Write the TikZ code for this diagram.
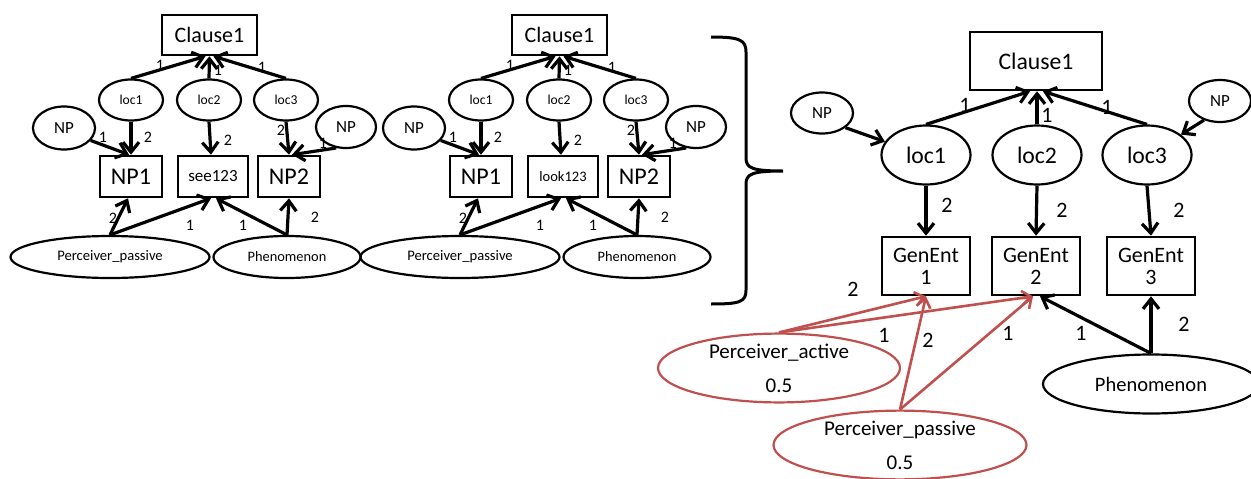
\documentclass[tikz,border=0pt]{standalone}
\usepackage{fontspec}
\setmainfont{Carlito}
\usetikzlibrary{arrows.meta,shapes.geometric,calc}
\definecolor{perc}{RGB}{192,80,77}
\tikzset{
  fs/.style={font=\fontsize{#1}{#1}\selectfont},
  box/.style={draw, rectangle, line width=2.6pt, inner sep=0pt},
  oval/.style={draw, ellipse, line width=2.2pt, inner sep=0pt},
  edge/.style={line width=3.2pt, -{Straight Barb[length=10pt,width=16pt]}},
  redge/.style={draw=perc, line width=2.6pt, -{Straight Barb[length=9pt,width=14pt]}},
  lbl/.style={inner sep=0pt},
}
% One small clause graph; #1 name prefix, #2 horizontal offset,
% #3 verb box text, #4 its font size
\newcommand{\percgraph}[4]{%
\begin{scope}[shift={(#2,0)}]
  \node[box, minimum width=95pt, minimum height=40pt, fs=22] (#1-cl) at (209.5,35) {Clause1};
  \node[oval, minimum width=64pt, minimum height=41pt, fs=13.6] (#1-l1) at (131,100) {loc1};
  \node[oval, minimum width=64pt, minimum height=41pt, fs=13.6] (#1-l2) at (209,100) {loc2};
  \node[oval, minimum width=64pt, minimum height=41pt, fs=13.6] (#1-l3) at (286,100) {loc3};
  \node[oval, minimum width=62pt, minimum height=43pt, fs=17] (#1-npl) at (64,128) {NP};
  \node[oval, minimum width=60pt, minimum height=42pt, fs=17] (#1-npr) at (346,127) {NP};
  \node[box, minimum width=62pt, minimum height=41pt, fs=24] (#1-np1) at (131,176.5) {NP1};
  \node[box, minimum width=70pt, minimum height=41pt, fs=#4] (#1-v) at (213,176.5) {#3};
  \node[box, minimum width=62pt, minimum height=41pt, fs=24] (#1-np2) at (289,176.5) {NP2};
  \node[oval, minimum width=199pt, minimum height=42pt, fs=14.6] (#1-pp) at (110,257) {Perceiver\_passive};
  \node[oval, minimum width=147pt, minimum height=42pt, fs=14.4] (#1-ph) at (287,257) {Phenomenon};
  % connectors
  \draw[edge] (#1-l1.north) -- ($(#1-cl.south)+(-4,0)$);
  \draw[edge] (#1-l2.north) -- (#1-cl.south);
  \draw[edge] (#1-l3.north) -- ($(#1-cl.south)+(4,0)$);
  \draw[edge] (#1-l1.south) -- (#1-np1.north);
  \draw[edge] (#1-l2.south) -- ($(#1-v.north)+(-2,0)$);
  \draw[edge] (#1-l3.south) -- (#1-np2.north);
  \draw[edge] (#1-npl.-25) -- ($(#1-np1.north)+(-2,0)$);
  \draw[edge] (#1-npr.-115) -- ($(#1-np2.north)+(3,0)$);
  \draw[edge] (#1-pp.north) -- ($(#1-np1.south)+(-3,0)$);
  \draw[edge] (#1-pp.north) -- ($(#1-v.south)+(-2,0)$);
  \draw[edge] (#1-ph.north) -- ($(#1-v.south)+(3,0)$);
  \draw[edge] (#1-ph.north) -- (#1-np2.south);
  % connector labels
  \node[lbl, fs=16] (#1-t1) at (160,65) {1};
  \node[lbl, fs=16] (#1-t2) at (218,70) {1};
  \node[lbl, fs=16] (#1-t3) at (262,67) {1};
  \node[lbl, fs=16] (#1-t4) at (148,137) {2};
  \node[lbl, fs=16] (#1-t5) at (228,140) {2};
  \node[lbl, fs=16] (#1-t6) at (281,130) {2};
  \node[lbl, fs=16] (#1-t7) at (103,137) {1};
  \node[lbl, fs=16] (#1-t8) at (323,143) {1};
  \node[lbl, fs=16] (#1-t9) at (113,218) {2};
  \node[lbl, fs=16] (#1-t10) at (190,225) {1};
  \node[lbl, fs=16] (#1-t11) at (243,225) {1};
  \node[lbl, fs=16] (#1-t12) at (315,217) {2};
\end{scope}}

\begin{document}
\begin{tikzpicture}[x=1pt,y=-1pt]
\useasboundingbox (0,0) rectangle (1251,479);

\percgraph{A}{0}{see123}{17}
\percgraph{B}{350}{look123}{14.5}

% brace
\draw[line width=3pt] (711,37) .. controls (740,37) and (746,40) .. (746,52)
  -- (746,158) .. controls (746,168) and (752,171) .. (783,171)
  .. controls (752,171) and (746,174) .. (746,184)
  -- (746,290) .. controls (746,302) and (740,304) .. (711,304);

% generalised graph
\node[box, minimum width=132pt, minimum height=58pt, fs=23.7] (C-cl) at (1036,61) {Clause1};
\node[oval, minimum width=62pt, minimum height=41pt, fs=17] (C-npl) at (822,113) {NP};
\node[oval, minimum width=62pt, minimum height=42pt, fs=17] (C-npr) at (1220,101) {NP};
\node[oval, minimum width=89pt, minimum height=59pt, fs=23.7] (C-l1) at (926,155) {loc1};
\node[oval, minimum width=89pt, minimum height=59pt, fs=23.7] (C-l2) at (1037,155) {loc2};
\node[oval, minimum width=89pt, minimum height=59pt, fs=23.7] (C-l3) at (1147,155) {loc3};
\node[box, minimum width=88pt, minimum height=58pt, align=center, font=\fontsize{22}{22}\selectfont] (C-g1) at (926,266) {GenEnt\\1};
\node[box, minimum width=88pt, minimum height=58pt, align=center, font=\fontsize{22}{22}\selectfont] (C-g2) at (1036,266) {GenEnt\\2};
\node[box, minimum width=88pt, minimum height=58pt, align=center, font=\fontsize{22}{22}\selectfont] (C-g3) at (1151,266) {GenEnt\\3};
\node[oval, draw=perc, minimum width=242pt, minimum height=67pt, align=center, font=\fontsize{21}{34}\selectfont] (C-pa) at (779,368) {Perceiver\_active\\0.5};
\node[oval, draw=perc, minimum width=253pt, minimum height=66pt, align=center, font=\fontsize{21}{34}\selectfont] (C-pp) at (900,445) {Perceiver\_passive\\0.5};
\node[oval, minimum width=216pt, minimum height=59pt, fs=20.5] (C-ph) at (1151,384) {Phenomenon};

\draw[edge] (C-l1.north) -- ($(C-cl.south)+(-6,0)$);
\draw[edge] (C-l2.north) -- ($(C-cl.south)+(1,0)$);
\draw[edge] (C-l3.north) -- ($(C-cl.south)+(7,0)$);
\draw[edge] (C-npl.-32) -- (C-l1.162);
\draw[edge] (C-npr.-130) -- (C-l3.31);
\draw[edge] (C-l1.south) -- (C-g1.north);
\draw[edge] (C-l2.south) -- (C-g2.north);
\draw[edge] (C-l3.south) -- (C-g3.north);
\draw[edge] (C-ph.north) -- (C-g3.south);
\draw[edge] (C-ph.north) -- ($(C-g2.south)+(4,0)$);
\draw[redge] (C-pa.north) -- (C-g1.south);
\draw[redge] (C-pa.north) -- ($(C-g2.south)+(-3,0)$);
\draw[redge] (C-pp.north) -- (C-g1.south);
\draw[redge] (C-pp.north) -- ($(C-g2.south)+(-3,0)$);

\node[lbl, fs=22] (C-t1) at (965,105) {1};
\node[lbl, fs=22] (C-t2) at (1047,115) {1};
\node[lbl, fs=22] (C-t3) at (1107,107) {1};
\node[lbl, fs=22] (C-t4) at (947,205) {2};
\node[lbl, fs=22] (C-t5) at (1062,210) {2};
\node[lbl, fs=22] (C-t6) at (1179,210) {2};
\node[lbl, fs=22] (C-t7) at (1184,324) {2};
\node[lbl, fs=22] (C-t8) at (1081,333) {1};
\node[lbl, fs=22] (C-t9) at (853,289) {2};
\node[lbl, fs=22] (C-t10) at (884,335) {1};
\node[lbl, fs=22] (C-t11) at (928,340) {2};
\node[lbl, fs=22] (C-t12) at (1008,333) {1};
\end{tikzpicture}
\end{document}
